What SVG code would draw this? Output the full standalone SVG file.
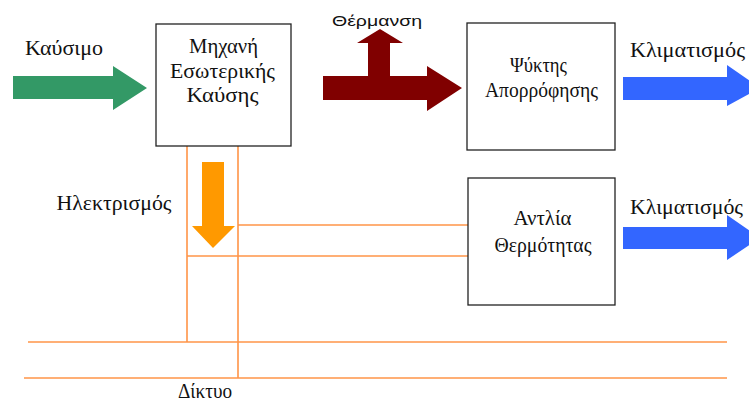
<svg xmlns="http://www.w3.org/2000/svg" width="749" height="403" viewBox="0 0 749 403">
<style>
.box{fill:#fff;stroke:#222;stroke-width:1.3}
.t{font-family:"Liberation Serif","DejaVu Serif",serif;font-size:20px;fill:#111;text-anchor:middle}
.s{font-family:"Liberation Sans","DejaVu Sans",sans-serif;font-size:15px;fill:#111;text-anchor:middle}
.w{stroke:#FF9447;stroke-width:1.6;fill:none}
</style>
<rect width="749" height="403" fill="#fff"/>
<g id="connectors">
  <line class="w" x1="187" y1="146" x2="187" y2="342"/>
  <line class="w" x1="238" y1="146" x2="238" y2="378"/>
  <line class="w" x1="238" y1="225" x2="468" y2="225"/>
  <line class="w" x1="187" y1="256" x2="468" y2="256"/>
  <line class="w" x1="28" y1="342" x2="727" y2="342"/>
  <line class="w" x1="24" y1="378" x2="727" y2="378"/>
  <polygon fill="#339966" points="13,76 113,76 113,66 147,88 113,110 113,99 13,99"/>
  <polygon fill="#800000" points="323,76 368,76 368,43 357,43 380,29 403,43 390,43 390,76 427,76 427,66 462,88 427,111 427,100 323,100"/>
  <polygon fill="#3366FF" points="623,77 727,77 727,65 760,88 727,106 727,100 623,100"/>
  <polygon fill="#3366FF" points="623,227 727,227 727,215 760,238 727,260 727,249 623,249"/>
  <polygon fill="#FF9900" points="202,162 224,162 224,226 235,226 213,248 192,226 202,226"/>
</g>
<g id="ice">
  <rect class="box" x="156" y="24" width="135" height="122"/>
  <text class="t" x="223.5" y="53" textLength="69" lengthAdjust="spacingAndGlyphs">Μηχανή</text>
  <text class="t" x="222.5" y="77.5" textLength="105" lengthAdjust="spacingAndGlyphs">Εσωτερικής</text>
  <text class="t" x="222.5" y="102" textLength="72" lengthAdjust="spacingAndGlyphs">Καύσης</text>
</g>
<g id="absorption">
  <rect class="box" x="467" y="23" width="148" height="127"/>
  <text class="t" x="538.5" y="72" textLength="57" lengthAdjust="spacingAndGlyphs">Ψύκτης</text>
  <text class="t" x="541.5" y="97" textLength="113" lengthAdjust="spacingAndGlyphs">Απορρόφησης</text>
</g>
<g id="heatpump">
  <rect class="box" x="468" y="178" width="147" height="127"/>
  <text class="t" x="542.5" y="225" textLength="58" lengthAdjust="spacingAndGlyphs">Αντλία</text>
  <text class="t" x="543" y="252" textLength="97" lengthAdjust="spacingAndGlyphs">Θερμότητας</text>
</g>
<g id="labels">
  <text class="t" x="64" y="55" textLength="78" lengthAdjust="spacingAndGlyphs">Καύσιμο</text>
  <text class="s" x="377" y="26" textLength="90" lengthAdjust="spacingAndGlyphs">Θέρμανση</text>
  <text class="t" x="687.5" y="57" textLength="115" lengthAdjust="spacingAndGlyphs">Κλιματισμός</text>
  <text class="t" x="686.5" y="214" textLength="113" lengthAdjust="spacingAndGlyphs">Κλιματισμός</text>
  <text class="t" x="114" y="210" textLength="115" lengthAdjust="spacingAndGlyphs">Ηλεκτρισμός</text>
  <text class="t" x="205" y="398" textLength="54" lengthAdjust="spacingAndGlyphs">Δίκτυο</text>
</g>
</svg>
